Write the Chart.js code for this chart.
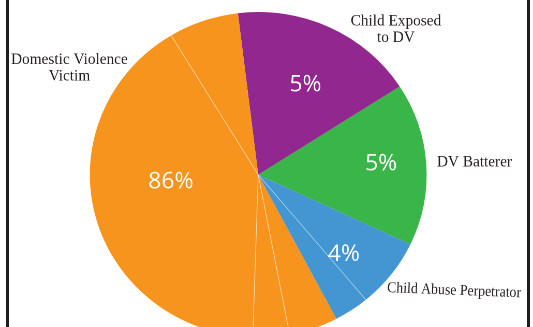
<!DOCTYPE html>
<html>
<head>
<meta charset="utf-8">
<script src="https://cdn.jsdelivr.net/npm/chart.js@4.4.0/dist/chart.umd.min.js"></script>
<style>
  html, body { margin: 0; padding: 0; background: #fff; }
  body { width: 533px; height: 327px; overflow: hidden; position: relative; }
  #wrap { position: absolute; left: 0; top: 0; width: 515px; height: 340px; transform: scaleX(1.035); transform-origin: 0 0; }
  #frame { position: absolute; left: 6px; top: 0; width: 518px; height: 327px; border-left: 3px solid #1e1e1e; border-right: 3px solid #1e1e1e; }
</style>
</head>
<body>
<div id="wrap"><canvas id="myChart" width="515" height="340"></canvas></div>
<div id="frame"></div>
<script>
// slices (values are the share of the circle, in degrees)
var sliceNames = ["Child Exposed to DV", "DV Batterer", "Child Abuse Perpetrator", "Child Abuse Perpetrator",
                  "Domestic Violence Victim", "Domestic Violence Victim", "Domestic Violence Victim", "Domestic Violence Victim"];
var sliceValues = [64.1, 58.2, 24.9, 12.1, 16.9, 12.6, 147.0, 24.2];
var sliceColors = ["#92278f", "#39b54a", "#4396d2", "#4396d2", "#f7941d", "#f7941d", "#f7941d", "#f7941d"];

// group labels shown on the chart
var groupNames = ["Child Exposed\nto DV", "DV Batterer", "Child Abuse Perpetrator", "Domestic Violence\nVictim"];
var groupPercents = ["5%", "5%", "4%", "86%"];

// where the texts sit: angle from top (deg) and distance in radii
var outsideSpots = [
    { a: 42.5, r: 1.21, rot: 0, maxW: 92 },
    { a: 86.7, r: 1.286, rot: 0, maxW: 76 },
    { a: 121.5, r: 1.364, rot: 2.2, maxW: 134 },
    { a: 300.3, r: 1.299, rot: 0, maxW: 117 }
];
var insideSpots = [
    { a: 26.9, r: 0.62 },
    { a: 84.8, r: 0.733 },
    { a: 133.9, r: 0.705 },
    { a: 265.0, r: 0.521 }
];

var SX = 1.035; // the wrapper is stretched a little, text gets squeezed back

// thin light lines between slices of the same colour
var dividerPlugin = {
    id: 'dividerPlugin',
    afterDatasetsDraw: function(chart) {
        var ctx = chart.ctx;
        var arcs = chart.getDatasetMeta(0).data;
        ctx.save();
        ctx.strokeStyle = 'rgba(255,255,255,0.55)';
        ctx.lineWidth = 0.7;
        for (var i = 1; i < arcs.length; i++) {
            if (sliceColors[i] !== sliceColors[i - 1]) continue;
            var a = arcs[i];
            ctx.beginPath();
            ctx.moveTo(a.x, a.y);
            ctx.lineTo(a.x + a.outerRadius * Math.cos(a.startAngle), a.y + a.outerRadius * Math.sin(a.startAngle));
            ctx.stroke();
        }
        // the last slice meets the first one as well
        var last = arcs[arcs.length - 1];
        if (sliceColors[0] === sliceColors[arcs.length - 1]) {
            ctx.beginPath();
            ctx.moveTo(last.x, last.y);
            ctx.lineTo(last.x + last.outerRadius * Math.cos(last.endAngle), last.y + last.outerRadius * Math.sin(last.endAngle));
            ctx.stroke();
        }
        ctx.restore();
    }
};

var textPlugin = {
    id: 'textPlugin',
    afterDatasetsDraw: function(chart) {
        var ctx = chart.ctx;
        var arc = chart.getDatasetMeta(0).data[0];
        var cx = arc.x, cy = arc.y, R = arc.outerRadius;

        function spot(p) {
            var rad = p.a * Math.PI / 180;
            return { x: cx + p.r * R * Math.sin(rad), y: cy - p.r * R * Math.cos(rad) };
        }

        ctx.save();
        ctx.textAlign = 'center';
        ctx.textBaseline = 'middle';

        // names outside the pie
        ctx.fillStyle = '#231f20';
        ctx.font = '15.3px "Liberation Serif", "Times New Roman", serif';
        groupNames.forEach(function(name, i) {
            var s = outsideSpots[i];
            var p = spot(s);
            var lines = name.split('\n');
            var lh = 16.6;
            ctx.save();
            ctx.translate(p.x, p.y);
            ctx.scale(1 / SX, 1);
            ctx.rotate(s.rot * Math.PI / 180);
            lines.forEach(function(l, k) {
                ctx.fillText(l, 0, (k - (lines.length - 1) / 2) * lh, s.maxW);
            });
            ctx.restore();
        });

        // percentages inside
        ctx.fillStyle = '#ffffff';
        ctx.font = '23px "Open Sans", "Noto Sans", sans-serif';
        groupPercents.forEach(function(txt, i) {
            var p = spot(insideSpots[i]);
            ctx.save();
            ctx.translate(p.x, p.y);
            ctx.scale(1 / SX, 1);
            ctx.fillText(txt, 0, 0);
            ctx.restore();
        });
        ctx.restore();
    }
};

var ctx = document.getElementById('myChart').getContext('2d');
var myChart = new Chart(ctx, {
    type: 'pie',
    data: {
        labels: sliceNames,
        datasets: [{
            data: sliceValues,
            backgroundColor: sliceColors,
            borderWidth: 0,
            hoverOffset: 0
        }]
    },
    options: {
        responsive: false,
        devicePixelRatio: 2,
        animation: false,
        events: [],
        rotation: -6.95,
        radius: 162.7,
        layout: { padding: { left: 0, right: 16, top: 9.4, bottom: 0 } },
        plugins: {
            legend: { display: false },
            tooltip: { enabled: false }
        }
    },
    plugins: [dividerPlugin, textPlugin]
});
</script>
</body>
</html>
